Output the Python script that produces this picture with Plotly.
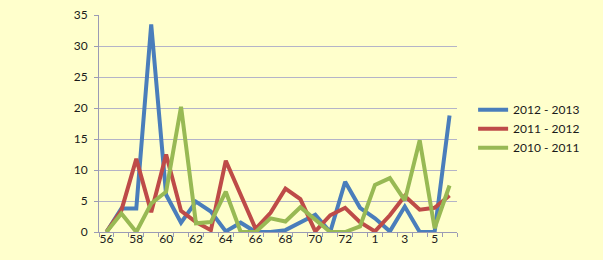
import plotly.graph_objects as go

categories = ["56", "57", "58", "59", "60", "61", "62", "63", "64", "65", "66", "67",
              "68", "69", "70", "71", "72", "73", "1", "2", "3", "4", "5", "6"]

s_2012_2013 = [0, 3.8, 3.8, 33.5, 6.0, 1.5, 4.9, 3.3, 0.1, 1.5, 0, 0,
               0.3, 1.6, 2.8, 0, 8.1, 3.9, 2.2, 0.1, 4.1, 0, 0, 18.8]
s_2011_2012 = [0, 3.5, 11.8, 3.2, 12.5, 3.4, 1.6, 0.3, 11.5, 5.8, 0.5, 3.1,
               7.0, 5.3, 0.1, 2.7, 3.9, 1.6, 0.1, 2.7, 5.8, 3.6, 3.9, 5.9]
s_2010_2011 = [0, 3.0, 0, 4.6, 6.5, 20.2, 1.4, 1.6, 6.5, 0, 0, 2.2,
               1.7, 4.0, 2.0, 0, 0, 0.9, 7.6, 8.7, 5.1, 14.8, 0.6, 7.5]

series = [
    ("2012 - 2013", s_2012_2013, "#4A7EBB"),
    ("2011 - 2012", s_2011_2012, "#BE4B48"),
    ("2010 - 2011", s_2010_2011, "#98B954"),
]

x_idx = list(range(len(categories)))
label_idx = x_idx[::2]
label_txt = categories[::2]
boundaries = [i - 0.5 for i in range(len(categories) + 1)]

fig = go.Figure()
for name, vals, color in series:
    fig.add_trace(go.Scatter(
        x=x_idx, y=vals, name=name, mode="lines",
        line=dict(color=color, width=4),
    ))

FONT = "Lato"
fig.update_layout(
    width=603, height=260,
    margin=dict(l=99, r=146, t=15, b=28),
    paper_bgcolor="#FFFFCC",
    plot_bgcolor="#FFFFCC",
    font=dict(family=FONT, size=12, color="#1a1a1a"),
    showlegend=True,
    legend=dict(
        x=1.045, y=0.63, xanchor="left", yanchor="top",
        bgcolor="rgba(0,0,0,0)",
        font=dict(family=FONT, size=12, color="#1a1a1a"),
        tracegroupgap=0,
    ),
)

fig.update_xaxes(
    automargin=False,
    range=[-0.5, len(categories) - 0.5],
    tickmode="array", tickvals=label_idx, ticktext=label_txt,
    ticks="", showgrid=False, zeroline=False,
    showline=True, linecolor="#9B9BB5", linewidth=1,
    minor=dict(tickmode="array", tickvals=boundaries, ticks="outside",
               ticklen=4, tickcolor="#9B9BB5", showgrid=False),
    ticklabelstandoff=-4,
    tickfont=dict(family=FONT, size=12, color="#1a1a1a"),
)
fig.update_yaxes(
    automargin=False,
    range=[0, 35], tickmode="linear", tick0=0, dtick=5,
    ticks="outside", ticklen=4, tickcolor="#9B9BB5",
    showgrid=True, gridcolor="#B4B4C8", gridwidth=1,
    zeroline=False,
    showline=True, linecolor="#9B9BB5", linewidth=1,
    ticklabelstandoff=4,
    tickfont=dict(family=FONT, size=12, color="#1a1a1a"),
)

fig.write_html("out.html")
